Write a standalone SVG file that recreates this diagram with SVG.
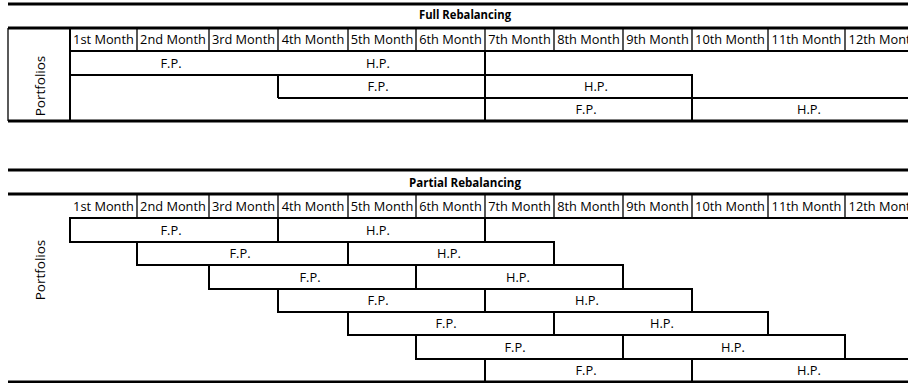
<svg xmlns="http://www.w3.org/2000/svg" width="908" height="383" viewBox="0 0 908 383">
<style>
.t{font-family:"Open Sans","Liberation Sans",sans-serif;font-size:12.8px;fill:#000;text-anchor:middle}
.b{font-weight:bold}
.pf{font-size:13.5px}
.thick{stroke:#000;stroke-width:3;fill:none}
.box{stroke:#000;stroke-width:2;fill:none}
.thin{stroke:#000;stroke-width:1.3;fill:none}
</style>
<rect width="908" height="383" fill="#fff"/>

<g id="full-rebalancing">
  <line class="thick" x1="8" y1="4" x2="908" y2="4"/>
  <text class="t b" x="465" y="19" textLength="92" lengthAdjust="spacingAndGlyphs">Full Rebalancing</text>
  <line class="thick" x1="8" y1="28" x2="908" y2="28"/>
  <line class="thin" x1="8" y1="28" x2="8" y2="121"/>
  <line class="box" x1="70" y1="28" x2="70" y2="121"/>
  <text class="t pf" transform="translate(45,86) rotate(-90)">Portfolios</text>
  <g id="full-header">
    <path class="thin" d="M137 28V51M209 28V51M278 28V51M348 28V51M416 28V51M485 28V51M554 28V51M623 28V51M692 28V51M768 28V51M845 28V51"/>
    <line class="box" x1="70" y1="51" x2="908" y2="51"/>
    <text class="t" x="103.5" y="44">1st Month</text>
    <text class="t" x="173" y="44">2nd Month</text>
    <text class="t" x="243.5" y="44">3rd Month</text>
    <text class="t" x="313" y="44">4th Month</text>
    <text class="t" x="382" y="44">5th Month</text>
    <text class="t" x="450.5" y="44">6th Month</text>
    <text class="t" x="519.5" y="44">7th Month</text>
    <text class="t" x="588.5" y="44">8th Month</text>
    <text class="t" x="657.5" y="44">9th Month</text>
    <text class="t" x="730" y="44">10th Month</text>
    <text class="t" x="806.5" y="44">11th Month</text>
    <text class="t" x="883.5" y="44">12th Month</text>
  </g>
  <g id="full-row1">
    <path class="box" d="M70 75H485V51"/>
    <text class="t" x="171" y="67.5">F.P.</text>
    <text class="t" x="378" y="67.5">H.P.</text>
  </g>
  <g id="full-row2">
    <path class="box" d="M278 98V75H692V121M278 98H908"/>
    <text class="t" x="378" y="91">F.P.</text>
    <text class="t" x="596" y="91">H.P.</text>
  </g>
  <g id="full-row3">
    <line class="box" x1="485" y1="51" x2="485" y2="121"/>
    <text class="t" x="586" y="114">F.P.</text>
    <text class="t" x="809" y="114">H.P.</text>
  </g>
  <line class="thick" x1="8" y1="121" x2="908" y2="121"/>
</g>

<g id="partial-rebalancing">
  <line class="thick" x1="8" y1="170" x2="908" y2="170"/>
  <text class="t b" x="465" y="187" textLength="112" lengthAdjust="spacingAndGlyphs">Partial Rebalancing</text>
  <line class="thick" x1="8" y1="194" x2="908" y2="194"/>
  <text class="t pf" transform="translate(45,270) rotate(-90)">Portfolios</text>
  <g id="partial-header">
    <path class="thin" d="M137 194V218M209 194V218M278 194V218M348 194V218M416 194V218M485 194V218M554 194V218M623 194V218M692 194V218M768 194V218M845 194V218"/>
    <line class="box" x1="70" y1="218" x2="908" y2="218"/>
    <text class="t" x="103.5" y="210.5">1st Month</text>
    <text class="t" x="173" y="210.5">2nd Month</text>
    <text class="t" x="243.5" y="210.5">3rd Month</text>
    <text class="t" x="313" y="210.5">4th Month</text>
    <text class="t" x="382" y="210.5">5th Month</text>
    <text class="t" x="450.5" y="210.5">6th Month</text>
    <text class="t" x="519.5" y="210.5">7th Month</text>
    <text class="t" x="588.5" y="210.5">8th Month</text>
    <text class="t" x="657.5" y="210.5">9th Month</text>
    <text class="t" x="730" y="210.5">10th Month</text>
    <text class="t" x="806.5" y="210.5">11th Month</text>
    <text class="t" x="883.5" y="210.5">12th Month</text>
  </g>
  <g id="partial-row1">
    <rect class="box" x="70" y="218" width="415" height="24"/>
    <line class="box" x1="278" y1="218" x2="278" y2="242"/>
    <text class="t" x="171" y="234.5">F.P.</text>
    <text class="t" x="378" y="234.5">H.P.</text>
  </g>
  <g id="partial-row2">
    <rect class="box" x="137" y="242" width="417" height="23"/>
    <line class="box" x1="348" y1="242" x2="348" y2="265"/>
    <text class="t" x="240" y="258">F.P.</text>
    <text class="t" x="449" y="258">H.P.</text>
  </g>
  <g id="partial-row3">
    <rect class="box" x="209" y="265" width="414" height="24"/>
    <line class="box" x1="416" y1="265" x2="416" y2="289"/>
    <text class="t" x="310" y="281.5">F.P.</text>
    <text class="t" x="518" y="281.5">H.P.</text>
  </g>
  <g id="partial-row4">
    <rect class="box" x="278" y="289" width="414" height="23"/>
    <line class="box" x1="485" y1="289" x2="485" y2="312"/>
    <text class="t" x="378" y="305">F.P.</text>
    <text class="t" x="587" y="305">H.P.</text>
  </g>
  <g id="partial-row5">
    <rect class="box" x="348" y="312" width="420" height="23"/>
    <line class="box" x1="554" y1="312" x2="554" y2="335"/>
    <text class="t" x="446" y="328">F.P.</text>
    <text class="t" x="662" y="328">H.P.</text>
  </g>
  <g id="partial-row6">
    <rect class="box" x="416" y="335" width="429" height="24"/>
    <line class="box" x1="623" y1="335" x2="623" y2="359"/>
    <text class="t" x="515" y="351.5">F.P.</text>
    <text class="t" x="733" y="351.5">H.P.</text>
  </g>
  <g id="partial-row7">
    <path class="box" d="M485 382V359H908M692 359V382"/>
    <text class="t" x="586" y="375">F.P.</text>
    <text class="t" x="809" y="375">H.P.</text>
  </g>
  <line class="thick" x1="8" y1="382" x2="908" y2="382"/>
</g>
<g id="connectors"/>
</svg>
